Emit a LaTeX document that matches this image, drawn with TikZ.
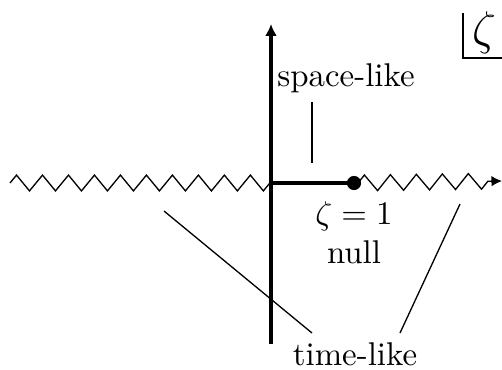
\documentclass[tikz,border=0pt]{standalone}
\usetikzlibrary{decorations.pathmorphing,arrows.meta}
\begin{document}
\begin{tikzpicture}[x=0.304pt,y=-0.304pt,
  axisline/.style={line width=1.2pt},
  cut/.style={line width=0.4pt,decorate,decoration={zigzag,segment length=7.9pt,amplitude=2.4pt}},
  leader/.style={line width=0.4pt},
  lbl/.style={inner sep=0pt,align=center}]
\useasboundingbox (0,0) rectangle (502,369);
% coordinates
\coordinate (bot) at (271,344);
\coordinate (top) at (271,24);
\coordinate (left) at (10,183);
\coordinate (origin) at (271,183);
\coordinate (zend) at (502,181);
% branch cuts
\draw[cut] (left) -- (origin);
\draw[cut,decoration={post length=4pt},-{Latex[length=3.2pt,width=3.2pt]}] (358,183) -- (zend);
% axes
\draw[axisline,-{Latex[length=3.6pt,width=3.6pt]}] (bot) -- (top);
\draw[axisline] (origin) -- (354,183);
\node[circle,fill,inner sep=0pt,minimum size=4.3pt] (dot) at (354,183) {};
% labels
\node[lbl] (space) at (346,78) {space-like};
\node[lbl] (null) at (354,233) {$\zeta=1$\\null};
\node[lbl,anchor=base] (time) at (355,365) {time-like};
\coordinate (s1) at (312,102);
\coordinate (s2) at (312,163);
\draw[leader] (s1) -- (s2);
\coordinate (t1) at (164,211);
\coordinate (t2) at (312,333);
\coordinate (t3) at (460,204);
\coordinate (t4) at (400,333);
\draw[leader] (t1) -- (t2);
\draw[leader] (t3) -- (t4);
% zeta box
\node[lbl] (zeta) at (484,33) {\Large$\zeta$};
\coordinate (b1) at (463,13);
\coordinate (b2) at (463,58);
\coordinate (b3) at (502,58);
\draw[leader] (b1) -- (b2) -- (b3);
\end{tikzpicture}
\end{document}
